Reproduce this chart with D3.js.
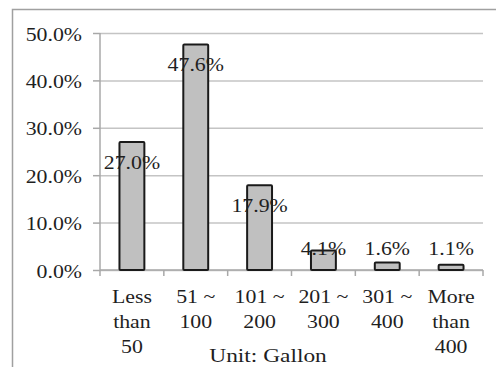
<!DOCTYPE html>
<html>
<head>
<meta charset="utf-8">
<script src="https://cdn.jsdelivr.net/npm/d3@7/dist/d3.min.js"></script>
<style>
  html, body { margin: 0; padding: 0; background: #fff; }
  svg { display: block; }
</style>
</head>
<body>
<svg id="chart" width="496" height="367"></svg>
<script>
// Share of households by water usage range
const categories = ["Less than 50", "51 ~ 100", "101 ~ 200", "201 ~ 300", "301 ~ 400", "More than 400"];
const categoryLines = [["Less", "than", "50"], ["51 ~", "100"], ["101 ~", "200"], ["201 ~", "300"], ["301 ~", "400"], ["More", "than", "400"]];
const shares = [0.270, 0.476, 0.179, 0.041, 0.016, 0.011];
const yTicks = [0, 0.1, 0.2, 0.3, 0.4, 0.5];
const unitLabel = "Unit: Gallon";

const svg = d3.select("#chart");
const font = "'Liberation Serif', 'Times New Roman', serif";
const fontSize = 19.5;
const stretch = 1.12;
const textColor = "#1f1f1f";

const plot = { left: 100, right: 483, top: 33, bottom: 270 };

const x = d3.scaleBand().domain(categories).range([plot.left, plot.right]).padding(0);
const y = d3.scaleLinear().domain([0, 0.5]).range([plot.bottom, plot.top]);

// outer chart border
svg.append("rect")
  .attr("x", 12.5).attr("y", 9.5)
  .attr("width", 520).attr("height", 400)
  .attr("fill", "none").attr("stroke", "#a0a0a0").attr("stroke-width", 1.5);

// horizontal gridlines
svg.append("g")
  .attr("transform", `translate(${plot.left},0)`)
  .call(d3.axisLeft(y).tickValues(yTicks).tickSize(-(plot.right - plot.left)).tickFormat(""))
  .call(g => g.select(".domain").remove())
  .call(g => g.selectAll("line").attr("stroke", "#c4c4c4").attr("stroke-width", 1.5));

// y axis with percentage labels
const yAxis = svg.append("g")
  .attr("transform", `translate(${plot.left},0)`)
  .call(d3.axisLeft(y).tickValues(yTicks).tickSize(7).tickPadding(11).tickFormat(d3.format(".1%")));
yAxis.select(".domain").attr("stroke", "#a8a8a8").attr("stroke-width", 1.5).attr("d", `M0,${plot.top}V${plot.bottom}`);
yAxis.selectAll(".tick line").attr("stroke", "#a8a8a8").attr("stroke-width", 1.5);
yAxis.selectAll(".tick text")
  .attr("font-family", font).attr("font-size", fontSize).attr("fill", textColor)
  .attr("dy", "0.36em")
  .attr("transform", function () { return `translate(${+d3.select(this).attr("x")},0) scale(${stretch},1)`; })
  .attr("x", 0);

// x axis line and boundary ticks
const xAxis = svg.append("g");
xAxis.append("line")
  .attr("x1", plot.left).attr("x2", plot.right)
  .attr("y1", y(0)).attr("y2", y(0))
  .attr("stroke", "#a8a8a8").attr("stroke-width", 1.5);
const boundaries = categories.map(c => x(c)).concat([x.range()[1]]);
xAxis.selectAll("line.tick")
  .data(boundaries)
  .join("line")
  .attr("class", "tick")
  .attr("x1", d => d).attr("x2", d => d)
  .attr("y1", y(0)).attr("y2", y(0) + 6)
  .attr("stroke", "#a8a8a8").attr("stroke-width", 1.5);

// bars
const barWidth = x.bandwidth() * 0.39;
svg.append("g")
  .selectAll("rect")
  .data(shares)
  .join("rect")
  .attr("x", (d, i) => x(categories[i]) + (x.bandwidth() - barWidth) / 2)
  .attr("y", d => y(d))
  .attr("width", barWidth)
  .attr("height", d => y(0) - y(d))
  .attr("rx", 1)
  .attr("fill", "#c0c0c0")
  .attr("stroke", "#1a1a1a")
  .attr("stroke-width", 2);

// value labels
svg.append("g")
  .selectAll("text")
  .data(shares)
  .join("text")
  .attr("transform", (d, i) => {
    const cx = x(categories[i]) + x.bandwidth() / 2;
    const base = Math.min(y(d) + 27, y(0) - 15);
    return `translate(${cx},${base}) scale(${stretch},1)`;
  })
  .attr("text-anchor", "middle")
  .attr("font-family", font).attr("font-size", fontSize).attr("fill", textColor)
  .text(d => d3.format(".1%")(d));

// category labels (multi-line)
const catGroups = svg.append("g")
  .selectAll("g")
  .data(categoryLines)
  .join("g");
catGroups.selectAll("text")
  .data((lines, i) => lines.map((t, j) => ({ t, j, i })))
  .join("text")
  .attr("transform", d => `translate(${x(categories[d.i]) + x.bandwidth() / 2},${303 + d.j * 25}) scale(${stretch},1)`)
  .attr("text-anchor", "middle")
  .attr("font-family", font).attr("font-size", fontSize).attr("fill", textColor)
  .text(d => d.t);

// unit caption
svg.append("text")
  .attr("transform", `translate(268,362) scale(1.2,1)`)
  .attr("text-anchor", "middle")
  .attr("font-family", font).attr("font-size", fontSize).attr("fill", textColor)
  .text(unitLabel);
</script>
</body>
</html>
